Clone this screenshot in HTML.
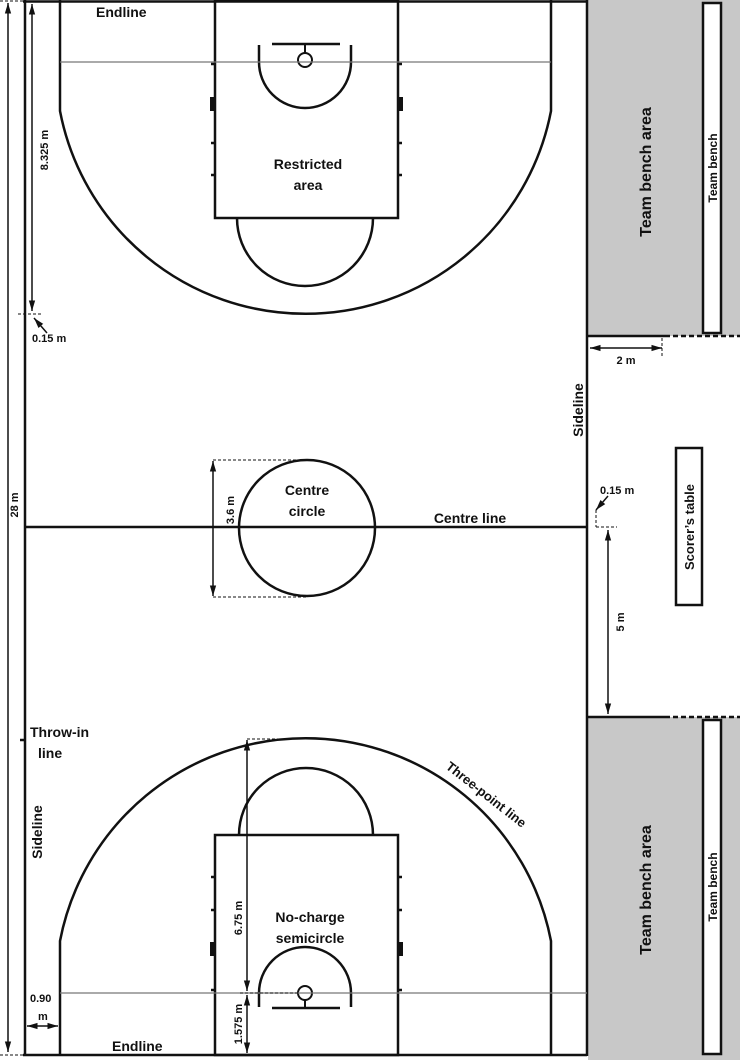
<!DOCTYPE html>
<html><head><style>body{margin:0;background:#fff}svg{display:block}text{font-family:"Liberation Sans",sans-serif;font-weight:bold;fill:#111}</style></head><body>
<svg width="740" height="1060" viewBox="0 0 740 1060" xmlns="http://www.w3.org/2000/svg">
<defs>
<marker id="a" viewBox="0 0 10 10" refX="10" refY="5" markerWidth="7" markerHeight="7" orient="auto-start-reverse"><path d="M0,2 L10,5 L0,8 z" fill="#111"/></marker>
</defs>
<rect x="588" y="0" width="152" height="336" fill="#c8c8c8"/>
<rect x="588" y="717" width="152" height="343" fill="#c8c8c8"/>
<rect x="703" y="3" width="18" height="330" fill="#fff" stroke="#111" stroke-width="2.5"/>
<rect x="703" y="720" width="18" height="334" fill="#fff" stroke="#111" stroke-width="2.5"/>
<g stroke="#111" stroke-width="2.5">
<line x1="588" y1="336" x2="665" y2="336"/><line x1="665" y1="336" x2="740" y2="336" stroke-dasharray="5,3"/>
<line x1="588" y1="717" x2="665" y2="717"/><line x1="665" y1="717" x2="740" y2="717" stroke-dasharray="5,3"/>
</g>
<rect x="676" y="448" width="26" height="157" fill="#fff" stroke="#111" stroke-width="2.5"/>
<g fill="none" stroke="#111" stroke-width="2.5">
<line x1="25" y1="0" x2="25" y2="1056"/>
<line x1="587" y1="0" x2="587" y2="1056"/>
<line x1="23" y1="1.5" x2="587" y2="1.5"/>
<line x1="23" y1="1055" x2="587" y2="1055"/>
<line x1="25" y1="527" x2="587" y2="527"/>
<circle cx="307" cy="528" r="68"/>
<path d="M60,0 V111 A250,250 0 0 0 551,111 V0"/>
<rect x="215" y="0" width="183" height="218"/>
<path d="M237,218 A68,68 0 0 0 373,218"/>
<path d="M259,45 V62 A46,46 0 0 0 351,62 V45"/>
<line x1="272" y1="44" x2="340" y2="44"/>
<line x1="305" y1="44" x2="305" y2="53" stroke-width="2"/>
<circle cx="305" cy="60" r="7" stroke-width="2"/>
<path d="M60,1055 V941 A250,250 0 0 1 551,941 V1055"/>
<rect x="215" y="835" width="183" height="220"/>
<path d="M239,835 A67,67 0 0 1 373,835"/>
<path d="M259,1007 V993 A46,46 0 0 1 351,993 V1007"/>
<line x1="272" y1="1008" x2="340" y2="1008"/>
<line x1="305" y1="1000" x2="305" y2="1008" stroke-width="2"/>
<circle cx="305" cy="993" r="7" stroke-width="2"/>
</g>
<g stroke="#777" stroke-width="1.2">
<line x1="60" y1="62" x2="551" y2="62"/>
<line x1="60" y1="993" x2="587" y2="993"/>
</g>
<g stroke="#111" stroke-width="2.5">
<line x1="211" y1="64" x2="215" y2="64"/><line x1="211" y1="143" x2="215" y2="143"/><line x1="211" y1="175" x2="215" y2="175"/>
<line x1="398" y1="64" x2="402" y2="64"/><line x1="398" y1="143" x2="402" y2="143"/><line x1="398" y1="175" x2="402" y2="175"/>
<line x1="211" y1="877" x2="215" y2="877"/><line x1="211" y1="910" x2="215" y2="910"/><line x1="211" y1="990" x2="215" y2="990"/>
<line x1="398" y1="877" x2="402" y2="877"/><line x1="398" y1="910" x2="402" y2="910"/><line x1="398" y1="990" x2="402" y2="990"/>
<line x1="20" y1="740" x2="25" y2="740"/>
</g>
<g fill="#111"><rect x="210" y="97" width="5" height="14"/><rect x="398" y="97" width="5" height="14"/><rect x="210" y="942" width="5" height="14"/><rect x="398" y="942" width="5" height="14"/></g>
<g stroke="#111" stroke-width="1.5" fill="none">
<line x1="8" y1="3" x2="8" y2="1052" marker-start="url(#a)" marker-end="url(#a)"/>
<line x1="32" y1="4" x2="32" y2="311" marker-start="url(#a)" marker-end="url(#a)"/>
<line x1="213" y1="461" x2="213" y2="596" marker-start="url(#a)" marker-end="url(#a)"/>
<line x1="247" y1="740" x2="247" y2="991" marker-start="url(#a)" marker-end="url(#a)"/>
<line x1="247" y1="995" x2="247" y2="1053" marker-start="url(#a)" marker-end="url(#a)"/>
<line x1="590" y1="348" x2="662" y2="348" marker-start="url(#a)" marker-end="url(#a)"/>
<line x1="608" y1="530" x2="608" y2="714" marker-start="url(#a)" marker-end="url(#a)"/>
<line x1="27" y1="1026" x2="58" y2="1026" marker-start="url(#a)" marker-end="url(#a)"/>
<line x1="47" y1="333" x2="34" y2="318" marker-end="url(#a)"/>
<line x1="608" y1="496" x2="596" y2="510" marker-end="url(#a)"/>
<g stroke-dasharray="3,2" stroke-width="1">
<line x1="0" y1="1" x2="23" y2="1"/><line x1="18" y1="314" x2="42" y2="314"/>
<line x1="213" y1="460" x2="307" y2="460"/><line x1="213" y1="597" x2="307" y2="597"/>
<line x1="247" y1="739" x2="305" y2="739"/><line x1="240" y1="993" x2="298" y2="993"/>
<line x1="662" y1="338" x2="662" y2="358"/><line x1="596" y1="510" x2="596" y2="527"/><line x1="596" y1="527" x2="617" y2="527"/>
<line x1="0" y1="1055" x2="23" y2="1055"/>
</g></g>
<text x="96" y="17" font-size="14">Endline</text>
<text x="112" y="1051" font-size="14">Endline</text>
<text x="308" y="169" font-size="14" text-anchor="middle">Restricted</text>
<text x="308" y="190" font-size="14" text-anchor="middle">area</text>
<text x="307" y="495" font-size="14" text-anchor="middle">Centre</text>
<text x="307" y="516" font-size="14" text-anchor="middle">circle</text>
<text x="470" y="523" font-size="14" text-anchor="middle">Centre line</text>
<text x="310" y="922" font-size="14" text-anchor="middle">No-charge</text>
<text x="310" y="943" font-size="14" text-anchor="middle">semicircle</text>
<text x="30" y="737" font-size="14">Throw-in</text>
<text x="38" y="758" font-size="14">line</text>
<text x="30" y="1002" font-size="11" font-weight="normal">0.90</text>
<text x="38" y="1020" font-size="11" font-weight="normal">m</text>
<text x="32" y="342" font-size="11" font-weight="normal">0.15 m</text>
<text x="600" y="494" font-size="11" font-weight="normal">0.15 m</text>
<text x="626" y="364" font-size="11" text-anchor="middle" font-weight="normal">2 m</text>
<text transform="translate(583,410) rotate(-90)" font-size="14" text-anchor="middle">Sideline</text>
<text transform="translate(42,832) rotate(-90)" font-size="14" text-anchor="middle">Sideline</text>
<text transform="translate(694,527) rotate(-90)" font-size="13" text-anchor="middle">Scorer’s table</text>
<text transform="translate(651,172) rotate(-90)" font-size="16" text-anchor="middle">Team bench area</text>
<text transform="translate(651,890) rotate(-90)" font-size="16" text-anchor="middle">Team bench area</text>
<text transform="translate(717,168) rotate(-90)" font-size="12" text-anchor="middle">Team bench</text>
<text transform="translate(717,887) rotate(-90)" font-size="12" text-anchor="middle">Team bench</text>
<text transform="translate(48,150) rotate(-90)" font-size="11" text-anchor="middle" font-weight="normal">8.325 m</text>
<text transform="translate(18,505) rotate(-90)" font-size="11" text-anchor="middle" font-weight="normal">28 m</text>
<text transform="translate(234,510) rotate(-90)" font-size="11" text-anchor="middle" font-weight="normal">3.6 m</text>
<text transform="translate(242,918) rotate(-90)" font-size="11" text-anchor="middle" font-weight="normal">6.75 m</text>
<text transform="translate(242,1024) rotate(-90)" font-size="11" text-anchor="middle" font-weight="normal">1.575 m</text>
<text transform="translate(624,622) rotate(-90)" font-size="11" text-anchor="middle" font-weight="normal">5 m</text>
<text transform="translate(445,768) rotate(38)" font-size="13">Three-point line</text>
</svg>
</body></html>
